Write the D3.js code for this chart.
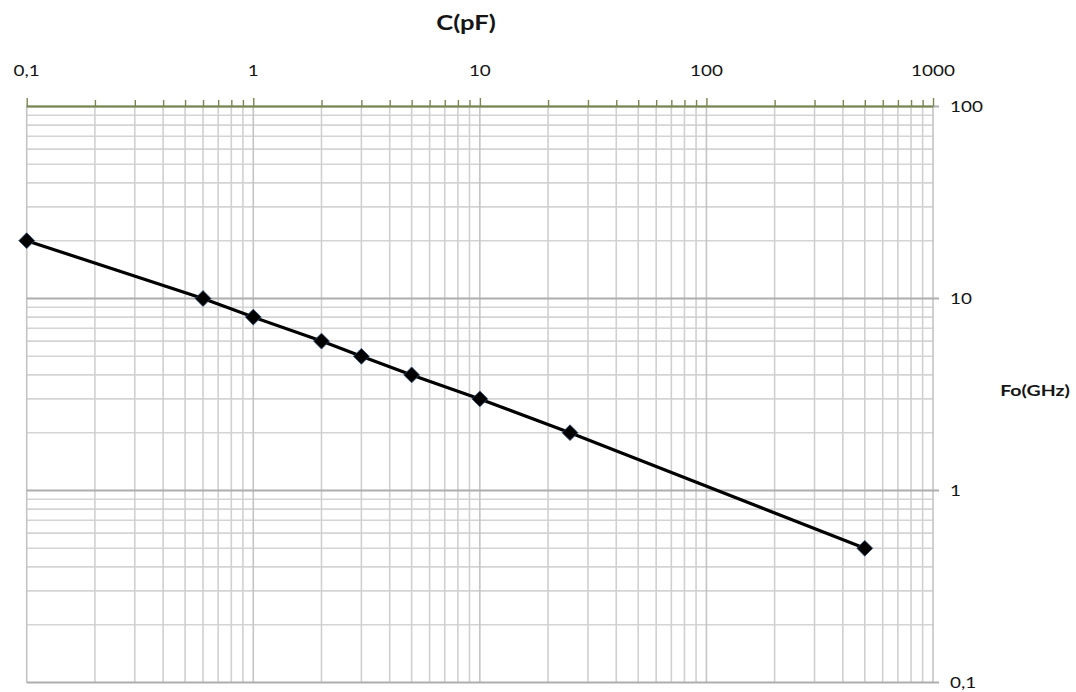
<!DOCTYPE html>
<html>
<head>
<meta charset="utf-8">
<script src="https://cdn.jsdelivr.net/npm/d3@7"></script>
<style>
  html, body { margin: 0; padding: 0; background: #fff; }
  svg { display: block; }
</style>
</head>
<body>
<svg id="chart" width="1076" height="692"></svg>
<script>
// Resonance frequency vs. capacitance (log-log)
const capacitance = [0.1, 0.6, 1, 2, 3, 5, 10, 25, 500];   // C (pF)
const frequency   = [20, 10, 8, 6, 5, 4, 3, 2, 0.5];       // Fo (GHz)
const xTickValues = [0.1, 1, 10, 100, 1000];
const xTickLabels = ["0,1", "1", "10", "100", "1000"];
const yTickValues = [0.1, 1, 10, 100];
const yTickLabels = ["0,1", "1", "10", "100"];
const xTitle = "C(pF)";
const yTitle = "Fo(GHz)";

(function () {
const svg = d3.select("#chart");
const plotLeft = 26.7, plotRight = 933, plotTop = 106.5, plotBottom = 682.5;
const FONT = "Lato, 'Open Sans', sans-serif";
const STRETCH = 1.22;

const x = d3.scaleLog().domain([0.1, 1000]).range([plotLeft, plotRight]);
const y = d3.scaleLog().domain([0.1, 100]).range([plotBottom, plotTop]);

const isDecade = v => Math.abs(Math.log10(v) - Math.round(Math.log10(v))) < 1e-9;
const xAll = x.ticks();
const yAll = y.ticks();

// minor horizontal gridlines
svg.append("g").selectAll("line")
  .data(yAll.filter(v => !isDecade(v)))
  .join("line")
  .attr("x1", plotLeft).attr("x2", plotRight)
  .attr("y1", d => y(d)).attr("y2", d => y(d))
  .attr("stroke", "#d4d4d4").attr("stroke-width", 1.6);

// vertical gridlines
svg.append("g").selectAll("line")
  .data(xAll)
  .join("line")
  .attr("x1", d => x(d)).attr("x2", d => x(d))
  .attr("y1", plotTop).attr("y2", plotBottom)
  .attr("stroke", d => isDecade(d) ? "#c4c4c4" : "#d0d0d0")
  .attr("stroke-width", 1.6);

// major horizontal gridlines, extended as ticks on the right
svg.append("g").selectAll("line")
  .data(yAll.filter(isDecade))
  .join("line")
  .attr("x1", plotLeft).attr("x2", plotRight + 6)
  .attr("y1", d => y(d)).attr("y2", d => y(d))
  .attr("stroke", "#adadad").attr("stroke-width", 1.8);

// top axis with upward ticks
const axisG = svg.append("g").attr("transform", `translate(0,${plotTop})`);
axisG.call(d3.axisTop(x).tickValues(xAll).tickSize(7).tickFormat(""));
axisG.select(".domain").remove();
axisG.selectAll(".tick line")
  .attr("stroke", "#76874f").attr("stroke-width", 1.4)
  .attr("y2", d => isDecade(d) ? -8.5 : -6.5);
axisG.append("line")
  .attr("x1", plotLeft).attr("x2", plotRight)
  .attr("y1", 0).attr("y2", 0)
  .attr("stroke", "#76874f").attr("stroke-width", 2.2);

// x tick labels
svg.append("g").selectAll("text")
  .data(xTickValues)
  .join("text")
  .attr("transform", d => `translate(${x(d)},75.5) scale(${STRETCH},1)`)
  .attr("text-anchor", "middle")
  .attr("font-family", FONT).attr("font-size", 15.5)
  .attr("fill", "#151515")
  .text((d, i) => xTickLabels[i]);

// y tick labels (right side)
svg.append("g").selectAll("text")
  .data(yTickValues)
  .join("text")
  .attr("transform", d => `translate(950,${y(d) + 5.5}) scale(${STRETCH},1)`)
  .attr("text-anchor", "start")
  .attr("font-family", FONT).attr("font-size", 15.5)
  .attr("fill", "#151515")
  .text((d, i) => yTickLabels[i]);

// axis titles
svg.append("text")
  .attr("transform", `translate(466,30) scale(${STRETCH},1)`)
  .attr("text-anchor", "middle")
  .attr("font-family", FONT).attr("font-weight", "bold").attr("font-size", 21)
  .attr("fill", "#151515")
  .text(xTitle);

svg.append("text")
  .attr("transform", `translate(1035,395.5) scale(${STRETCH},1)`)
  .attr("text-anchor", "middle")
  .attr("font-family", FONT).attr("font-weight", "bold").attr("font-size", 16)
  .attr("fill", "#151515")
  .text(yTitle);

// data series
const pts = capacitance.map((c, i) => [c, frequency[i]]);
svg.append("path")
  .datum(pts)
  .attr("d", d3.line().x(d => x(d[0])).y(d => y(d[1])))
  .attr("fill", "none").attr("stroke", "#000").attr("stroke-width", 3.2);

svg.append("g").selectAll("path")
  .data(pts)
  .join("path")
  .attr("transform", d => `translate(${x(d[0])},${y(d[1])})`)
  .attr("d", d3.symbol(d3.symbolDiamond2, 160))
  .attr("fill", "#000").attr("stroke", "#2a4a78").attr("stroke-width", 0.8);
})();
</script>
</body>
</html>
